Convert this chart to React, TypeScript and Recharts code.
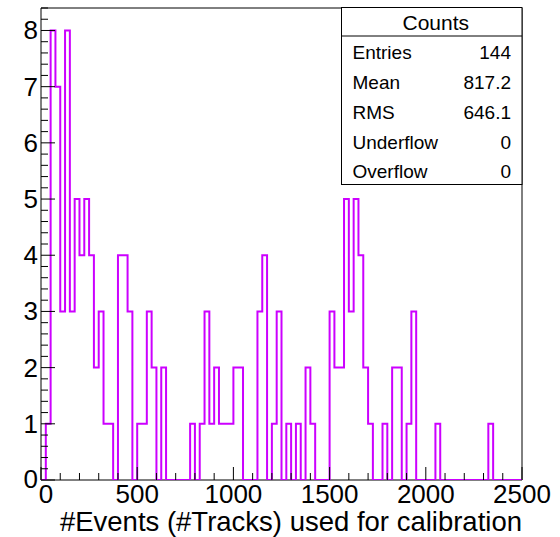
import React from "react";
import { ComposedChart, Line, XAxis, YAxis, ReferenceArea } from "recharts";

// Histogram: 100 bins of width 25 from 0 to 2500
const binStart = 0;
const binWidth = 25;
const counts = [
  0, 1, 8, 7, 3, 8, 3, 5, 4, 5,
  4, 2, 3, 1, 1, 0, 4, 4, 3, 0,
  1, 1, 3, 2, 0, 2, 0, 0, 0, 0,
  0, 1, 0, 1, 3, 1, 2, 1, 1, 1,
  2, 2, 0, 0, 0, 3, 4, 0, 1, 3,
  0, 1, 0, 1, 0, 2, 1, 0, 0, 0,
  3, 2, 2, 5, 3, 5, 4, 2, 1, 0,
  0, 1, 0, 2, 2, 0, 1, 3, 0, 0,
  0, 0, 1, 0, 0, 0, 0, 0, 0, 0,
  0, 0, 0, 1, 0, 0, 0, 0, 0, 0,
];

const xMajorTicks = [0, 500, 1000, 1500, 2000, 2500];
const xMinorStep = 100;
const yMajorTicks = [0, 1, 2, 3, 4, 5, 6, 7, 8];
const yMinorStep = 0.2;
const yMax = 8.4;

const statsTitle = "Counts";
const statsLabels = ["Entries", "Mean", "RMS", "Underflow", "Overflow"];
const statsValues = ["144", "817.2", "646.1", "0", "0"];

const xTitle = "#Events (#Tracks) used for calibration";

const histData = counts.map((c, i) => ({ x: binStart + i * binWidth, y: c }));
histData.push({ x: binStart + counts.length * binWidth, y: counts[counts.length - 1] });

const xTicks: number[] = [];
for (let v = 0; v <= 2500; v += xMinorStep) xTicks.push(v);
const yTicks: number[] = [];
for (let k = 0; Number((k * yMinorStep).toFixed(1)) <= yMax + 1e-9; k++) yTicks.push(Number((k * yMinorStep).toFixed(1)));

const FONT = "'Liberation Sans', Arial, Helvetica, sans-serif";
const HIST_COLOR = "#cc00ff";

const XTick = (props: any) => {
  const { x, y, payload } = props;
  const v = payload.value;
  const major = xMajorTicks.includes(v);
  return (
    <g>
      <line x1={x} x2={x} y1={y} y2={y - (major ? 13 : 7)} stroke="#000" strokeWidth={1} />
      {major && (
        <text x={x + (v === 0 ? 5 : 0)} y={y + 23} textAnchor="middle" fontSize={26} fontFamily={FONT} fill="#000">
          {v}
        </text>
      )}
    </g>
  );
};

const YTick = (props: any) => {
  const { x, y, payload } = props;
  const v = payload.value;
  const major = yMajorTicks.includes(v);
  return (
    <g>
      <line x1={x} x2={x + (major ? 14 : 7)} y1={y} y2={y} stroke="#000" strokeWidth={1} />
      {major && (
        <text x={x - 3} y={y + (v === 0 ? 8 : 9)} textAnchor="end" fontSize={26} fontFamily={FONT} fill="#000">
          {v}
        </text>
      )}
    </g>
  );
};

const TitleLabel = (props: any) => {
  const vb = props.viewBox || {};
  return (
    <text x={vb.x + vb.width} y={531} textAnchor="end" fontSize={27.5} fontFamily={FONT} fill="#000">
      {xTitle}
    </text>
  );
};

export default function App() {
  const boxL = 341.5;
  const boxT = 7.5;
  const boxW = 180.5;
  const boxH = 177;
  const rowCenters = [52.3, 82.3, 112, 141.8, 171.5];
  return (
    <div style={{ position: "absolute", left: 0, top: 0, width: 560, height: 537, background: "#fff" }}>
      <ComposedChart
        width={560}
        height={537}
        data={histData}
        margin={{ top: 8, right: 38, bottom: 0, left: 0 }}
      >
        <XAxis
          type="number"
          dataKey="x"
          domain={[0, 2500]}
          ticks={xTicks}
          interval={0}
          height={57}
          axisLine={false}
          tickLine={false}
          tickSize={0}
          tickMargin={0}
          tick={<XTick />}
          label={<TitleLabel />}
          allowDataOverflow
        />
        <YAxis
          type="number"
          domain={[0, yMax]}
          ticks={yTicks}
          interval={0}
          width={41}
          axisLine={false}
          tickLine={false}
          tickSize={0}
          tickMargin={0}
          tick={<YTick />}
          allowDataOverflow
        />
        <ReferenceArea
          x1={0}
          x2={2500}
          y1={0}
          y2={yMax}
          fill="none"
          fillOpacity={0}
          stroke="#000"
          strokeWidth={1}
          ifOverflow="visible"
        />
        <Line
          type="stepAfter"
          dataKey="y"
          stroke={HIST_COLOR}
          strokeWidth={2}
          dot={false}
          activeDot={false}
          isAnimationActive={false}
        />
      </ComposedChart>
      <svg
        width={560}
        height={537}
        style={{ position: "absolute", left: 0, top: 0, pointerEvents: "none" }}
      >
        <rect x={boxL} y={boxT} width={boxW} height={boxH} fill="#fff" stroke="#000" strokeWidth={1} />
        <line x1={boxL} x2={boxL + boxW} y1={36} y2={36} stroke="#000" strokeWidth={1} />
        <text x={boxL + boxW / 2 + 4} y={22.5 + 7.5} textAnchor="middle" fontSize={21} fontFamily={FONT} fill="#000">
          {statsTitle}
        </text>
        {statsLabels.map((lab, i) => (
          <g key={lab}>
            <text x={352.5} y={rowCenters[i] + 6.8} fontSize={19} fontFamily={FONT} fill="#000">
              {lab}
            </text>
            <text x={511} y={rowCenters[i] + 6.8} textAnchor="end" fontSize={19} fontFamily={FONT} fill="#000">
              {statsValues[i]}
            </text>
          </g>
        ))}
      </svg>
    </div>
  );
}
